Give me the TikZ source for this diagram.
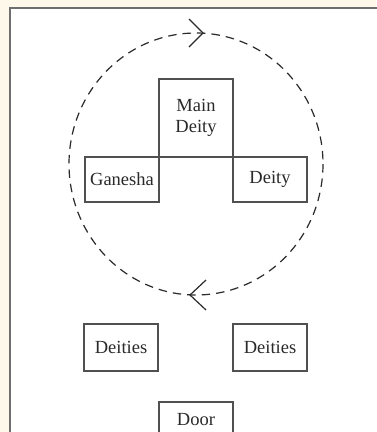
\documentclass[tikz,border=0pt]{standalone}
\usepackage{fontspec}
\setmainfont{Liberation Serif}
\definecolor{cream}{HTML}{FEF8EB}
\definecolor{framegray}{HTML}{6E6E6E}
\definecolor{boxgray}{HTML}{505050}
\definecolor{inkgray}{HTML}{2A2A2A}
\begin{document}
\begin{tikzpicture}[x=1pt,y=-1pt,
  box/.style={draw=boxgray, line width=1.3pt, rectangle, inner sep=0pt,
    minimum width=74pt, text=inkgray, align=center,
    font=\fontsize{18.5}{21}\selectfont},
  path/.style={draw=inkgray, line width=1.2pt, dash pattern=on 8.5pt off 6pt},
  chev/.style={draw=inkgray, line width=1.2pt}]
\useasboundingbox (0,0) rectangle (376,432);
\fill[cream] (0,0) rectangle (376,432);
\fill[white] (10,8) rectangle (380,440);
\draw[framegray, line width=1.6pt] (10,440) -- (10,8) -- (380,8);
% circumambulation path
\draw[path] (196,164) ellipse [x radius=127, y radius=131];
\coordinate (t1) at (203,33);
\coordinate (t1a) at (189,19);
\coordinate (t1b) at (189,47);
\draw[chev] (t1a) -- (t1) -- (t1b);
\coordinate (t2) at (190,295);
\coordinate (t2a) at (206,280);
\coordinate (t2b) at (206,310);
\draw[chev] (t2a) -- (t2) -- (t2b);
% boxes
\node[box, minimum height=78pt] (main) at (196,118) {Main\\Deity};
\node[box, minimum height=45pt] (ganesha) at (122,179.5) {Ganesha};
\node[box, minimum height=45pt] (deity) at (270,179.5) {Deity};
\node[box, minimum height=47pt] (deitiesL) at (121,347.5) {Deities};
\node[box, minimum height=47pt] (deitiesR) at (270,347.5) {Deities};
\node[box, minimum height=40pt] (door) at (196,422) {\raisebox{5pt}{Door}};
\end{tikzpicture}
\end{document}
